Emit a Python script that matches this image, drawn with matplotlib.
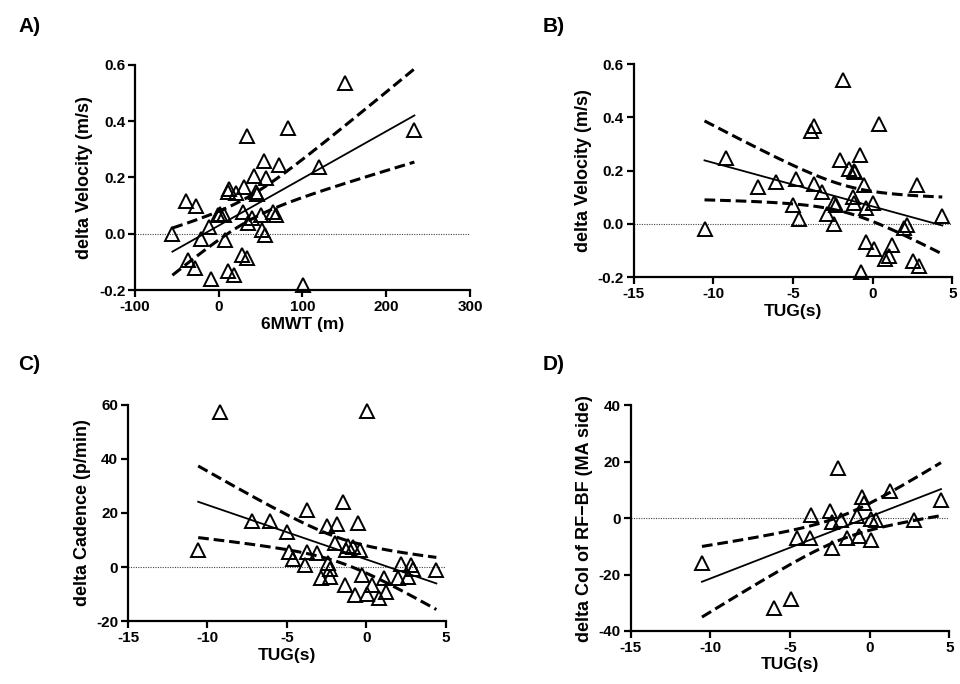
import numpy as np
import matplotlib
matplotlib.use("Agg")
import matplotlib.pyplot as plt

plt.rcParams["font.family"] = ["Liberation Sans", "DejaVu Sans"]
plt.rcParams["font.weight"] = "bold"
plt.rcParams["axes.unicode_minus"] = False

# Panel A: 6MWT vs delta velocity
a_x = [150.8, 82.4, 33.4, 233.6, 120, 54, 72, 42, 56, 30.6, 12.3, 11.5, 20.7, 44.6,
       46, -39.4, -27.5, 1.6, -1.2, 6, 29.5, 50.5, 65, 68.5, 40, 34.6, -11.5, -55.3,
       -21.5, 52, 55.3, 7.6, -36.2, -28.3, 27.5, 33.4, 10.7, 18.7, -9.6, 100.3]
a_y = [0.537, 0.377, 0.347, 0.369, 0.238, 0.258, 0.246, 0.205, 0.199, 0.167, 0.159,
       0.149, 0.146, 0.149, 0.140, 0.116, 0.098, 0.072, 0.066, 0.066, 0.078, 0.066,
       0.078, 0.066, 0.057, 0.037, 0.025, -0.002, -0.017, 0.015, -0.005, -0.023,
       -0.094, -0.123, -0.076, -0.085, -0.133, -0.145, -0.162, -0.183]

# Panel B: TUG vs delta velocity
b_x = [-1.85, 0.41, -3.71, -3.87, -9.2, -0.80, -2.04, -1.51, -1.16, -1.1, -7.22,
       -6.07, -4.82, -3.71, -0.53, 2.77, -3.18, -1.26, -1.16, 0.05, -2.45, -2.3,
       -4.99, -0.43, -2.87, -4.6, 4.37, -2.45, 2.14, 1.97, -10.55, -0.39, 0.1,
       1.24, 1.04, 0.78, 2.56, 2.92, -0.74]
b_y = [0.540, 0.377, 0.367, 0.348, 0.248, 0.258, 0.239, 0.207, 0.199, 0.195, 0.139,
       0.158, 0.167, 0.149, 0.147, 0.147, 0.120, 0.101, 0.080, 0.080, 0.078, 0.072,
       0.070, 0.060, 0.038, 0.017, 0.029, 0.001, -0.003, -0.016, -0.021, -0.068,
       -0.093, -0.081, -0.122, -0.131, -0.141, -0.160, -0.181]

# Panel C: TUG vs delta cadence
c_x = [-9.22, 0.05, -1.46, -3.72, -7.22, -6.03, -0.55, -2.46, -1.83, -5.0, -1.98,
       -1.14, -0.83, -0.41, -1.25, -10.58, -4.86, -3.75, -3.12, -4.59, -3.86, -2.4,
       -2.3, 2.21, 2.8, 2.95, 4.41, -2.86, -2.3, -0.3, 1.1, 2.0, 2.63, -1.35, 0.39,
       -0.72, 0.05, 1.27, 0.81]
c_y = [57.4, 57.9, 24.1, 21.1, 17.0, 17.0, 16.2, 15.3, 15.8, 13.1, 9.0, 7.9, 7.5,
       6.3, 6.3, 6.3, 5.7, 5.7, 5.3, 2.8, 0.7, 1.6, -0.8, 1.1, 0.7, -0.9, -1.1,
       -4.2, -3.6, -3.0, -4.2, -4.2, -3.6, -6.5, -6.5, -10.4, -10.1, -9.2, -11.6]

# Panel D: TUG vs delta CoI of RF-BF
d_x = [-1.97, 1.28, -0.51, -0.37, 4.47, -2.48, -3.66, -0.77, -2.4, -1.83, 0.1,
       0.41, 2.8, -4.57, -3.76, -1.42, -0.67, 0.06, -2.34, -10.53, -4.92, -6.0]
d_y = [17.8, 9.7, 7.4, 5.3, 6.5, 2.7, 1.2, 0.8, -1.5, -0.8, -0.2, -0.8, -0.6, -7.1,
       -7.1, -7.1, -6.3, -7.7, -10.7, -15.8, -28.5, -31.8]


def t95(df):
    # approximation of the two sided 95% t quantile
    z = 1.959964
    return z + (z**3 + z) / (4 * df) + (5 * z**5 + 16 * z**3 + 3 * z) / (96 * df**2)


def draw_panel(ax, x, y, xlim, ylim, xticks, yticks, xlabel, ylabel):
    x = np.asarray(x, float)
    y = np.asarray(y, float)
    n = len(x)
    slope, intercept = np.polyfit(x, y, 1)
    resid = y - (slope * x + intercept)
    s = np.sqrt(np.sum(resid**2) / (n - 2))
    xm = x.mean()
    sxx = np.sum((x - xm) ** 2)
    xs = np.linspace(x.min(), x.max(), 200)
    ys = slope * xs + intercept
    half = t95(n - 2) * s * np.sqrt(1.0 / n + (xs - xm) ** 2 / sxx)

    ax.axhline(0, color="#444444", lw=0.8, ls=(0, (1, 1.2)), zorder=1)
    ax.plot(xs, ys, color="black", lw=1.3, zorder=2)
    ax.plot(xs, ys + half, color="black", lw=2.2, ls=(0, (3.5, 1.6)), zorder=2)
    ax.plot(xs, ys - half, color="black", lw=2.2, ls=(0, (3.5, 1.6)), zorder=2)
    ax.plot(x, y, ls="none", marker="^", ms=10.5, mfc="none", mec="black",
            mew=1.4, zorder=3, clip_on=False)

    ax.set_xlim(xlim)
    ax.set_ylim(ylim)
    ax.set_xticks(xticks)
    ax.set_yticks(yticks)
    ax.spines["top"].set_visible(False)
    ax.spines["right"].set_visible(False)
    for sp in ("left", "bottom"):
        ax.spines[sp].set_linewidth(1.6)
    ax.tick_params(width=1.6, length=5, labelsize=11, pad=2)
    for lab in ax.get_xticklabels() + ax.get_yticklabels():
        lab.set_fontweight("bold")
    ax.set_xlabel(xlabel, fontsize=12.5, fontweight="bold", labelpad=2)
    ax.set_ylabel(ylabel, fontsize=13, fontweight="bold", labelpad=4)


fig = plt.figure(figsize=(9.6, 6.84), dpi=100)

ax_a = fig.add_axes([0.1406, 0.576, 0.349, 0.329])
ax_b = fig.add_axes([0.660, 0.595, 0.332, 0.311])
ax_c = fig.add_axes([0.1333, 0.092, 0.331, 0.316])
ax_d = fig.add_axes([0.657, 0.0775, 0.332, 0.330])

draw_panel(ax_a, a_x, a_y, (-100, 300), (-0.2, 0.6), [-100, 0, 100, 200, 300],
           [-0.2, 0.0, 0.2, 0.4, 0.6], "6MWT (m)", "delta Velocity (m/s)")
ax_a.set_yticklabels(["-0.2", "0.0", "0.2", "0.4", "0.6"], fontweight="bold")
draw_panel(ax_b, b_x, b_y, (-15, 5), (-0.2, 0.6), [-15, -10, -5, 0, 5],
           [-0.2, 0.0, 0.2, 0.4, 0.6], "TUG(s)", "delta Velocity (m/s)")
ax_b.set_yticklabels(["-0.2", "0.0", "0.2", "0.4", "0.6"], fontweight="bold")
draw_panel(ax_c, c_x, c_y, (-15, 5), (-20, 60), [-15, -10, -5, 0, 5],
           [-20, 0, 20, 40, 60], "TUG(s)", "delta Cadence (p/min)")
draw_panel(ax_d, d_x, d_y, (-15, 5), (-40, 40), [-15, -10, -5, 0, 5],
           [-40, -20, 0, 20, 40], "TUG(s)", "delta CoI of RF\u2212BF (MA side)")

for lab, px, py in [("A)", 18, 26), ("B)", 543, 26), ("C)", 18, 365), ("D)", 543, 365)]:
    fig.text(px / 960, 1 - py / 684, lab, fontsize=15, fontweight="bold",
             ha="left", va="center")

fig.savefig("out.png", dpi=100)
